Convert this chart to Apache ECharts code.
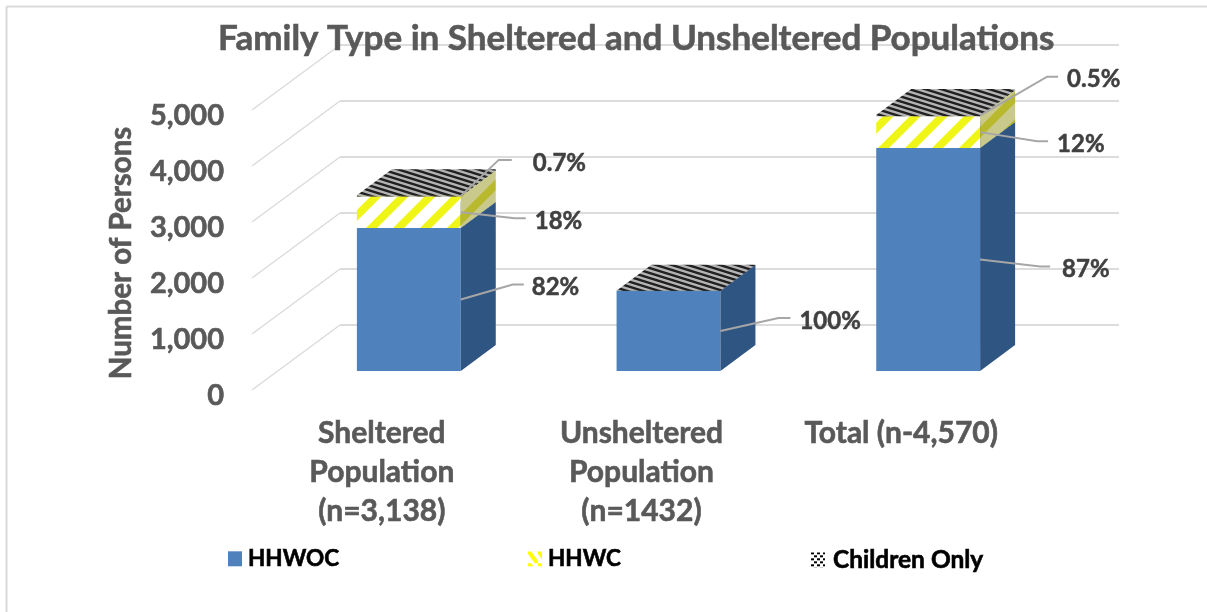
<!DOCTYPE html>
<html>
<head>
<meta charset="utf-8">
<title>Family Type in Sheltered and Unsheltered Populations</title>
<script src="https://cdn.jsdelivr.net/npm/echarts@6/dist/echarts.min.js"></script>
<style>
  html, body { margin: 0; padding: 0; background: #fff; }
  #chart { width: 1207px; height: 612px; }
</style>
</head>
<body>
<div id="chart"></div>
<script>
const categories = ['Sheltered\nPopulation\n(n=3,138)', 'Unsheltered\nPopulation\n(n=1432)', 'Total (n-4,570)\n\n'];
const yTicks = [0, 1000, 2000, 3000, 4000, 5000];

const hhwoc = [2552, 1428, 3984];
const hhwc = [564, 0, 563];
const childrenOnly = [22, 4, 23];

const hhwocLabels = ['82%', '100%', '87%'];
const hhwcLabels = ['18%', '', '12%'];
const childrenLabels = ['0.7%', '', '0.5%'];

// callout elbows relative to the bar edge: dx, dy, horizontal run, gap to text
const hhwocCallouts = [[52, -15, 11, 8], [58, -13, 12, 9], [60, 7, 10, 12]];
const hhwcCallouts = [[54, 6, 11, 9], null, [57, 9, 11, 9]];
const childrenCallouts = [[38, -36, 13, 21], null, [67, -39, 11, 9]];

const FONT = 'Lato, "Open Sans", sans-serif';
const GREY = '#595959';

// the fake 3D box: how far the wall goes back, and where a bar sits in that depth
const WALL_DX = 88, WALL_DY = -65;
const BAR_DX = 27, BAR_DY = -19;
const SIDE_DX = 35, SIDE_DY = -26;

function tile(w, h, draw) {
  const c = document.createElement('canvas');
  c.width = w;
  c.height = h;
  draw(c.getContext('2d'));
  return { image: c, repeat: 'repeat' };
}

function stripes(bg, fg) {
  return tile(27, 27, ctx => {
    ctx.fillStyle = bg;
    ctx.fillRect(0, 0, 27, 27);
    ctx.fillStyle = fg;
    [0, 27].forEach(o => {
      ctx.beginPath();
      ctx.moveTo(o, 0);
      ctx.lineTo(o + 11, 0);
      ctx.lineTo(o - 16, 27);
      ctx.lineTo(o - 27, 27);
      ctx.closePath();
      ctx.fill();
    });
  });
}

// slightly falling dark rows, like the top of the bars
const topWeave = tile(16, 5, ctx => {
  ctx.fillStyle = '#b4b4b4';
  ctx.fillRect(0, 0, 16, 5);
  ctx.strokeStyle = '#202020';
  ctx.lineWidth = 2.4;
  [-5, 0, 5].forEach(o => {
    ctx.beginPath();
    ctx.moveTo(-16, o - 5);
    ctx.lineTo(32, o + 10);
    ctx.stroke();
  });
});

const yellowFront = stripes('#ffffff', '#f0f518');
const yellowSide = stripes('#c9c98c', '#b9b92e');
const legendChecker = tile(6, 6, ctx => {
  ctx.fillStyle = '#fff';
  ctx.fillRect(0, 0, 6, 6);
  ctx.fillStyle = '#000';
  ctx.fillRect(0, 0, 3, 2);
  ctx.fillRect(3, 3, 3, 2);
});
const legendStripes = tile(10, 12, ctx => {
  ctx.fillStyle = '#fff';
  ctx.fillRect(0, 0, 10, 12);
  ctx.strokeStyle = '#ffff00';
  ctx.lineWidth = 4;
  ctx.beginPath();
  ctx.moveTo(0, -1);
  ctx.lineTo(10, 13);
  ctx.stroke();
});

function renderWall(params, api) {
  const y = api.coord([0, api.value(1)])[1];
  const x0 = params.coordSys.x;
  const x1 = x0 + params.coordSys.width;
  return {
    type: 'group',
    children: [
      {
        type: 'polyline',
        shape: { points: [[x0, y], [x0 + WALL_DX, y + WALL_DY]] },
        style: { stroke: '#d9d9d9', lineWidth: 1.2, fill: null }
      },
      {
        type: 'polyline',
        shape: { points: [[x0 + WALL_DX, y + WALL_DY], [x1 + WALL_DX, y + WALL_DY]] },
        style: { stroke: '#dcdcdc', lineWidth: 2, fill: null }
      }
    ]
  };
}

function boxRenderer(front, side, top, labels, callouts) {
  return function (params, api) {
    const i = api.value(0);
    const value = api.value(1);
    const base = api.value(2);
    if (!value) return null;
    const bw = api.size([1, 0])[0] * 0.4;
    const cx = api.coord([i, 0])[0] + BAR_DX;
    const yB = api.coord([i, base])[1] + BAR_DY;
    const yT = api.coord([i, base + value])[1] + BAR_DY;
    const xL = cx - bw / 2;
    const xR = cx + bw / 2;
    const children = [
      {
        type: 'polygon',
        shape: { points: [[xL, yB], [xR, yB], [xR, yT], [xL, yT]] },
        style: { fill: front }
      },
      {
        type: 'polygon',
        shape: { points: [[xR, yB], [xR + SIDE_DX, yB + SIDE_DY], [xR + SIDE_DX, yT + SIDE_DY], [xR, yT]] },
        style: { fill: side }
      },
      {
        type: 'polygon',
        shape: { points: [[xL, yT], [xR, yT], [xR + SIDE_DX, yT + SIDE_DY], [xL + SIDE_DX, yT + SIDE_DY]] },
        style: { fill: top }
      }
    ];
    const c = callouts[i];
    if (c && labels[i]) {
      const ay = (yB + yT) / 2;
      const ex = xR + c[0];
      const ey = ay + c[1];
      children.push({
        type: 'polyline',
        shape: { points: [[xR, ay], [ex, ey], [ex + c[2], ey]] },
        style: { stroke: '#a6a6a6', lineWidth: 2, fill: null }
      });
      children.push({
        type: 'text',
        style: {
          text: labels[i],
          x: ex + c[2] + c[3],
          y: ey + 3,
          fill: '#404040',
          stroke: '#404040',
          lineWidth: 0.5,
          font: 'bold 24px ' + FONT,
          align: 'left',
          verticalAlign: 'middle'
        }
      });
    }
    return { type: 'group', children };
  };
}

// stack the three arrays into [category index, value, base]
function stackRows(values, below) {
  return values.map((v, i) => [i, v, below.reduce((sum, arr) => sum + arr[i], 0)]);
}

const myChart = echarts.init(document.getElementById('chart'), null, { renderer: 'canvas' });

const heavyText = { fontFamily: FONT, fontWeight: 'bold', textBorderWidth: 0.6 };

// each legend entry gets its own box, the gaps and text widths in the source are uneven
function legendEntry(name, color, left, fontSize, textGap) {
  return {
    left: left,
    top: 547,
    padding: 0,
    itemWidth: 14,
    itemHeight: 15,
    textStyle: { ...heavyText, color: '#000', textBorderColor: '#000', fontSize: fontSize, padding: [0, 0, 0, textGap] },
    data: [{ name: name, icon: 'rect', itemStyle: { color: color } }]
  };
}

const option = {
  backgroundColor: '#fff',
  animation: false,
  title: {
    text: 'Family Type in Sheltered and Unsheltered Populations',
    left: 213,
    top: 16,
    textStyle: { ...heavyText, color: GREY, textBorderColor: GREY, fontSize: 35 }
  },
  legend: [
    legendEntry('HHWOC', '#4f81bd', 228, 22.5, 1),
    legendEntry('HHWC', legendStripes, 528, 22.5, 1),
    legendEntry('Children Only', legendChecker, 811, 24.5, 3)
  ],
  grid: { left: 252, top: 110, width: 779, height: 280, containLabel: false },
  xAxis: {
    type: 'category',
    data: categories,
    axisLine: { show: false },
    axisTick: { show: false },
    splitLine: { show: false },
    axisLabel: {
      ...heavyText,
      margin: 24,
      color: GREY,
      textBorderColor: GREY,
      fontSize: 30,
      lineHeight: 39,
      interval: 0
    }
  },
  yAxis: {
    type: 'value',
    min: 0,
    max: 5000,
    interval: 1000,
    axisLine: { show: false },
    axisTick: { show: false },
    splitLine: { show: false },
    name: 'Number of Persons',
    nameLocation: 'middle',
    nameGap: 116,
    nameTextStyle: { ...heavyText, color: GREY, textBorderColor: GREY, fontSize: 29.5, padding: [0, 6, 0, 0] },
    axisLabel: {
      ...heavyText,
      margin: 28,
      color: GREY,
      textBorderColor: GREY,
      fontSize: 29,
      verticalAlign: 'top',
      lineHeight: 12,
      formatter: v => v.toLocaleString('en-US')
    }
  },
  graphic: [
    { type: 'line', shape: { x1: 6.5, y1: 6.5, x2: 1207, y2: 6.5 }, style: { stroke: '#d9d9d9', lineWidth: 2 } },
    { type: 'line', shape: { x1: 6.5, y1: 6.5, x2: 6.5, y2: 612 }, style: { stroke: '#d9d9d9', lineWidth: 2 } }
  ],
  series: [
    {
      type: 'custom',
      name: 'walls',
      silent: true,
      encode: { x: 0, y: 1 },
      data: yTicks.map(v => [0, v]),
      renderItem: renderWall
    },
    {
      type: 'custom',
      name: 'HHWOC',
      encode: { x: 0, y: 1 },
      data: stackRows(hhwoc, []),
      renderItem: boxRenderer('#4f81bd', '#2f5582', '#2f5582', hhwocLabels, hhwocCallouts)
    },
    {
      type: 'custom',
      name: 'HHWC',
      encode: { x: 0, y: 1 },
      data: stackRows(hhwc, [hhwoc]),
      renderItem: boxRenderer(yellowFront, yellowSide, yellowSide, hhwcLabels, hhwcCallouts)
    },
    {
      type: 'custom',
      name: 'Children Only',
      encode: { x: 0, y: 1 },
      data: stackRows(childrenOnly, [hhwoc, hhwc]),
      renderItem: boxRenderer(topWeave, topWeave, topWeave, childrenLabels, childrenCallouts)
    }
  ]
};

option && myChart.setOption(option);
</script>
</body>
</html>
